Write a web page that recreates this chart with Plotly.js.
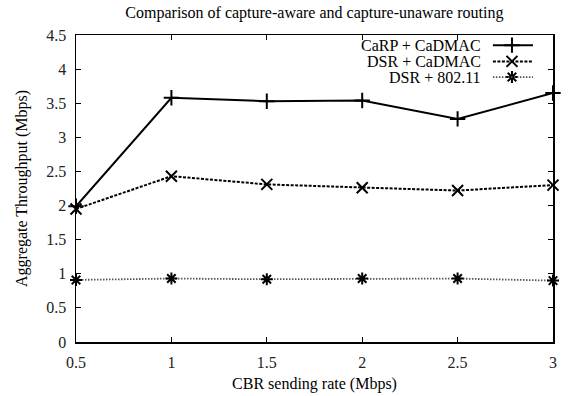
<!DOCTYPE html>
<html>
<head>
<meta charset="utf-8">
<script src="https://cdn.plot.ly/plotly-3.0.1.min.js"></script>
<style>html,body{margin:0;padding:0;background:#fff;}#chart{width:569px;height:396px;}</style>
</head>
<body>
<div id="chart"></div>
<script>
// ---- data ----
var rates = [0.5, 1, 1.5, 2, 2.5, 3];
var carpCadmac = [1.99, 3.58, 3.53, 3.54, 3.27, 3.65];
var dsrCadmac = [1.95, 2.43, 2.31, 2.26, 2.22, 2.30];
var dsr80211 = [0.91, 0.93, 0.92, 0.93, 0.93, 0.90];
var seriesNames = ["CaRP + CaDMAC", "DSR + CaDMAC", "DSR + 802.11"];
var xTicks = [0.5, 1, 1.5, 2, 2.5, 3];
var xTickLabels = ["0.5", "1", "1.5", "2", "2.5", "3"];
var yTicks = [0, 0.5, 1, 1.5, 2, 2.5, 3, 3.5, 4, 4.5];
var yTickLabels = ["0", "0.5", "1", "1.5", "2", "2.5", "3", "3.5", "4", "4.5"];

var FONT = "Liberation Serif, Times New Roman, serif";
var FS = 16;

var styles = [
  {line: {color: "#000", width: 2, dash: "solid"}, marker: {symbol: "cross-thin-open", size: 11, color: "#000", line: {color: "#000", width: 2}}},
  {line: {color: "#000", width: 2, dash: "3px,1.5px"}, marker: {symbol: "x-thin-open", size: 11, color: "#000", line: {color: "#000", width: 2}}},
  {line: {color: "#555", width: 1.8, dash: "1.5px,1.5px"}, marker: {symbol: "asterisk-open", size: 10, color: "#000", line: {color: "#000", width: 2}}}
];
var ys = [carpCadmac, dsrCadmac, dsr80211];

var traces = [];
for (var i = 0; i < 3; i++) {
  traces.push({
    x: rates, y: ys[i], type: "scatter", mode: "lines+markers",
    name: seriesNames[i], showlegend: false,
    line: styles[i].line, marker: styles[i].marker, cliponaxis: false
  });
}

// custom gnuplot-style legend (text left, sample right)
var legTextX = 0.853, legLineX0 = 0.874, legLineX1 = 0.958, legMarkX = 0.914;
var legRows = [0.967, 0.914, 0.863];
var annotations = [];
var shapes = [];
for (var j = 0; j < 3; j++) {
  annotations.push({
    xref: "paper", yref: "paper", x: legTextX, y: legRows[j], xanchor: "right", yanchor: "middle",
    text: seriesNames[j], showarrow: false, font: {family: FONT, size: FS, color: "#000"}
  });
  shapes.push({
    type: "line", xref: "paper", yref: "paper", x0: legLineX0, x1: legLineX1, y0: legRows[j], y1: legRows[j],
    line: {color: styles[j].line.color, width: styles[j].line.width, dash: styles[j].line.dash}
  });
  traces.push({
    x: [legMarkX], y: [legRows[j]], xaxis: "x2", yaxis: "y2", type: "scatter", mode: "markers",
    showlegend: false, hoverinfo: "skip", marker: styles[j].marker, cliponaxis: false
  });
}

var axisCommon = {
  showgrid: false, zeroline: false, showline: true, linecolor: "#000", linewidth: 1.5,
  ticks: "inside", ticklen: 5, tickcolor: "#000", tickwidth: 1, mirror: "ticks",
  tickfont: {family: FONT, size: FS, color: "#222"}, ticklabelstandoff: 5
};

var layout = {
  width: 569, height: 396,
  margin: {l: 76, r: 16, t: 35, b: 54},
  paper_bgcolor: "#fff", plot_bgcolor: "#fff",
  title: {text: "Comparison of capture-aware and capture-unaware routing",
          font: {family: FONT, size: FS, color: "#000"}, x: 0.5525, xanchor: "center", y: 0.968, yanchor: "middle"},
  xaxis: Object.assign({}, axisCommon, {
    range: [0.5, 3], tickvals: xTicks, ticktext: xTickLabels,
    title: {text: "CBR sending rate (Mbps)", font: {family: FONT, size: FS, color: "#000"}, standoff: 8}
  }),
  yaxis: Object.assign({}, axisCommon, {
    range: [0, 4.5], tickvals: yTicks, ticktext: yTickLabels,
    title: {text: "Aggregate Throughput (Mbps)", font: {family: FONT, size: FS, color: "#000"}, standoff: 14}
  }),
  xaxis2: {overlaying: "x", range: [0, 1], visible: false, fixedrange: true},
  yaxis2: {overlaying: "y", range: [0, 1], visible: false, fixedrange: true},
  annotations: annotations,
  shapes: shapes,
  showlegend: false
};

Plotly.newPlot("chart", traces, layout, {staticPlot: true, displayModeBar: false});
</script>
</body>
</html>
